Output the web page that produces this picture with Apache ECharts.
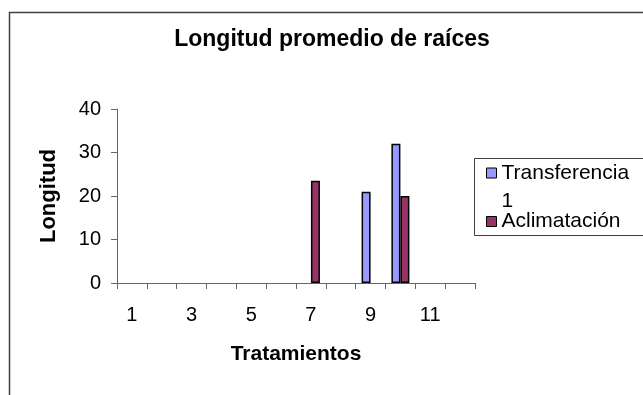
<!DOCTYPE html>
<html>
<head>
<meta charset="utf-8">
<script src="https://cdn.jsdelivr.net/npm/echarts@6/dist/echarts.min.js"></script>
<style>
  html, body { margin: 0; padding: 0; background: #fff; }
  #chart { width: 643px; height: 395px; }
</style>
</head>
<body>
<div id="chart"></div>
<script>
const categories = ['1', '2', '3', '4', '5', '6', '7', '8', '9', '10', '11', '12']
const transferencia = [null, null, null, null, null, null, null, null, 21, 32, null, null]
const aclimatacion = [null, null, null, null, null, null, 23.5, null, null, 20, null, null]
const yTicks = { min: 0, max: 40, interval: 10 }

const font = 'Arial, "Liberation Sans", sans-serif'

const $chart = echarts.init(document.getElementById('chart'))

const legendCommon = {
  orient: 'vertical',
  padding: 0,
  itemWidth: 10,
  itemHeight: 10,
  icon: 'rect',
  itemStyle: { borderColor: '#000', borderWidth: 1 },
  textStyle: { fontFamily: font, fontSize: 21, color: '#000' }
}

const option = {
  animation: false,
  backgroundColor: '#fff',
  title: {
    text: 'Longitud promedio de raíces',
    left: 327,
    top: 23,
    textAlign: 'center',
    textStyle: { fontFamily: font, fontSize: 23, fontWeight: 'bold', color: '#000' }
  },
  graphic: [
    {
      type: 'rect',
      shape: { x: 9.5, y: 12.5, width: 700, height: 500 },
      style: { fill: 'none', stroke: '#404040', lineWidth: 1.5 },
      silent: true
    },
    {
      type: 'rect',
      shape: { x: 474.5, y: 158.5, width: 200, height: 77 },
      style: { fill: '#fff', stroke: '#404040', lineWidth: 1 },
      silent: true,
      z: -1
    }
  ],
  legend: [
    Object.assign({}, legendCommon, {
      data: ['Transferencia 1'],
      left: 486,
      top: 131,
      // empty first line keeps "Transferencia" level with the icon, "1" wraps below
      formatter: (name) => '\n' + name.replace(' ', '\n'),
      textStyle: Object.assign({}, legendCommon.textStyle, { lineHeight: 28 })
    }),
    Object.assign({}, legendCommon, {
      data: ['Aclimatación'],
      left: 486,
      top: 211
    })
  ],
  grid: {
    left: 117,
    right: 168,
    top: 109,
    bottom: 112,
    containLabel: false
  },
  xAxis: {
    type: 'category',
    data: categories,
    name: 'Tratamientos',
    nameLocation: 'middle',
    nameGap: 61,
    nameTextStyle: { fontFamily: font, fontSize: 21, fontWeight: 'bold', color: '#000' },
    axisLine: { lineStyle: { color: '#666', width: 1 } },
    axisTick: { show: true, interval: 0, length: 6, lineStyle: { color: '#666' } },
    axisLabel: { interval: 1, margin: 22, fontFamily: font, fontSize: 20, color: '#000' },
    splitLine: { show: false }
  },
  yAxis: {
    type: 'value',
    min: yTicks.min,
    max: yTicks.max,
    interval: yTicks.interval,
    name: 'Longitud',
    nameLocation: 'middle',
    nameGap: 57,
    nameTextStyle: { fontFamily: font, fontSize: 22, fontWeight: 'bold', color: '#000' },
    axisLine: { show: true, lineStyle: { color: '#666', width: 1 } },
    axisTick: { show: true, length: 6, lineStyle: { color: '#666' } },
    axisLabel: { margin: 16, fontFamily: font, fontSize: 20, color: '#000' },
    splitLine: { show: false }
  },
  series: [
    {
      name: 'Transferencia 1',
      type: 'bar',
      data: transferencia,
      barWidth: 9,
      barGap: '0%',
      itemStyle: { color: '#9999FF', borderColor: '#000', borderWidth: 1.5 }
    },
    {
      name: 'Aclimatación',
      type: 'bar',
      data: aclimatacion,
      barWidth: 9,
      barGap: '0%',
      itemStyle: { color: '#993366', borderColor: '#000', borderWidth: 1.5 }
    }
  ]
}

$chart.setOption(option)
</script>
</body>
</html>
